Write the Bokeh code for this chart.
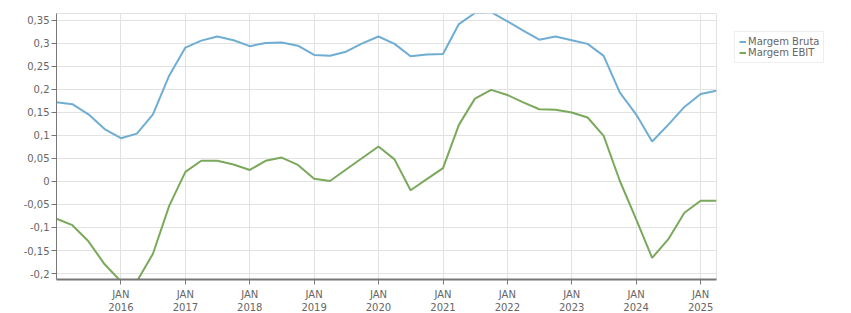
import pandas as pd
from bokeh.plotting import figure
from bokeh.models import (Range1d, FixedTicker, CustomJSTickFormatter, Legend,
                          LegendItem, ColumnDataSource)
from bokeh.embed import file_html
from bokeh.resources import INLINE

# ---- data (quarterly) ----
start_date = "2015-01-01"
n_points = 42
margem_bruta = [0.172, 0.168, 0.146, 0.114, 0.094, 0.104, 0.146, 0.230,
                0.291, 0.306, 0.315, 0.307, 0.294, 0.301, 0.302, 0.295,
                0.275, 0.273, 0.282, 0.300, 0.315, 0.299, 0.272, 0.276,
                0.277, 0.342, 0.366, 0.368, 0.348, 0.328, 0.308, 0.315,
                0.307, 0.299, 0.273, 0.193, 0.146, 0.087, 0.123, 0.162,
                0.190, 0.197]
margem_ebit = [-0.081, -0.095, -0.130, -0.180, -0.217, -0.217, -0.157, -0.053,
               0.021, 0.045, 0.045, 0.037, 0.025, 0.045, 0.052, 0.036,
               0.006, 0.001, 0.026, 0.051, 0.076, 0.048, -0.019, 0.005,
               0.029, 0.123, 0.180, 0.199, 0.188, 0.172, 0.157, 0.156,
               0.150, 0.139, 0.099, 0.001, -0.082, -0.166, -0.126, -0.068,
               -0.042, -0.042]
series_names = ["Margem Bruta", "Margem EBIT"]
series_colors = ["#6fadd3", "#7aa95c"]
y_ticks = [-0.2, -0.15, -0.1, -0.05, 0, 0.05, 0.1, 0.15, 0.2, 0.25, 0.3, 0.35]
x_tick_years = list(range(2016, 2026))

dates = pd.date_range(start_date, periods=n_points, freq="QS")
src = ColumnDataSource(dict(x=dates, bruta=margem_bruta, ebit=margem_ebit))

font = "DejaVu Sans"
label_color = "#666666"
grid_color = "#e2e2e2"
axis_color = "#777777"

p = figure(frame_width=660, frame_height=266, x_axis_type="datetime",
           output_backend="svg", toolbar_location=None,
           x_range=Range1d(pd.Timestamp("2015-01-01"), pd.Timestamp("2025-04-01")),
           y_range=Range1d(-0.213, 0.365),
           min_border_left=56, min_border_right=135,
           min_border_top=13, min_border_bottom=34)
p.background_fill_color = "white"
p.border_fill_color = "white"
p.outline_line_color = grid_color
p.outline_line_width = 1

r1 = p.line("x", "bruta", source=src, line_color=series_colors[0], line_width=2)
r2 = p.line("x", "ebit", source=src, line_color=series_colors[1], line_width=2)

x_ticks = [pd.Timestamp(f"{y}-01-01").value / 1e6 for y in x_tick_years]
p.xaxis.ticker = FixedTicker(ticks=x_ticks)
p.xaxis.formatter = CustomJSTickFormatter(
    code="const d = new Date(tick); return 'JAN\\n' + d.getUTCFullYear();")
p.yaxis.ticker = FixedTicker(ticks=y_ticks)
p.yaxis.formatter = CustomJSTickFormatter(
    code="return (Math.round(tick*100)/100).toString().replace('.', ',');")

for ax in (p.xaxis[0], p.yaxis[0]):
    ax.major_label_text_font = font
    ax.major_label_text_font_size = "10px"
    ax.major_label_text_color = label_color
    ax.axis_line_color = axis_color
    ax.major_tick_line_color = axis_color
    ax.major_tick_out = 5
    ax.major_tick_in = 0
    ax.minor_tick_line_color = None
    ax.major_label_standoff = 2
p.xaxis.axis_line_width = 2
p.yaxis.axis_line_width = 1
p.xaxis.major_label_standoff = 4

p.xgrid.grid_line_color = grid_color
p.ygrid.grid_line_color = grid_color
p.xgrid.ticker = FixedTicker(ticks=x_ticks)
p.ygrid.ticker = FixedTicker(ticks=y_ticks)

legend = Legend(items=[LegendItem(label=series_names[0], renderers=[r1]),
                       LegendItem(label=series_names[1], renderers=[r2])],
                location="top_left", orientation="vertical")
legend.label_text_font = font
legend.label_text_font_size = "10px"
legend.label_text_color = label_color
legend.glyph_width = 7
legend.glyph_height = 11
legend.label_height = 11
legend.label_standoff = 2
legend.padding = 4
legend.spacing = 0
legend.margin = 18
legend.border_line_color = "#dddddd"
legend.border_line_width = 1
legend.background_fill_color = "white"
p.add_layout(legend, "right")

open("out.html", "w").write(file_html(p, INLINE))
